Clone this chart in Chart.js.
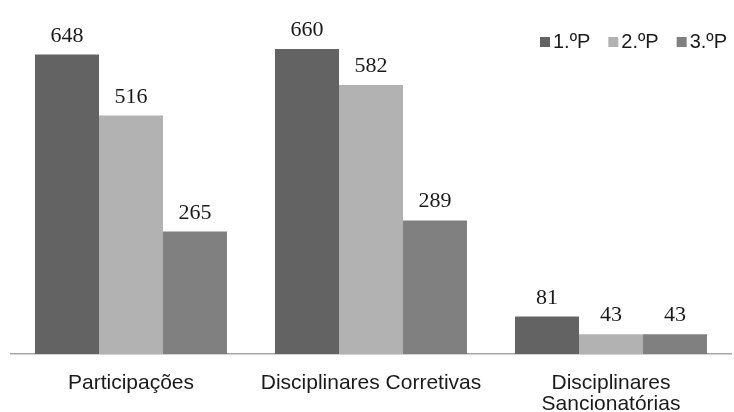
<!DOCTYPE html>
<html>
<head>
<meta charset="utf-8">
<script src="https://cdn.jsdelivr.net/npm/chart.js@4"></script>
<style>
  html, body { margin: 0; padding: 0; background: #fff; }
  #wrap { width: 734px; height: 412px; }
</style>
</head>
<body>
<div id="wrap"><canvas id="barChart" width="734" height="412"></canvas></div>
<script>
const categories = ["Participações", ["Disciplinares Corretivas"], ["Disciplinares", "Sancionatórias"]];
const seriesNames = ["1.ºP", "2.ºP", "3.ºP"];
const p1Values = [648, 660, 81];
const p2Values = [516, 582, 43];
const p3Values = [265, 289, 43];
const seriesColors = ["#636363", "#b2b2b2", "#808080"];

// value labels above each bar
const valueLabels = {
    id: "valueLabels",
    afterDatasetsDraw(chart) {
        const ctx = chart.ctx;
        ctx.save();
        ctx.font = "22px 'Liberation Serif', serif";
        ctx.fillStyle = "#1a1a1a";
        ctx.textAlign = "center";
        ctx.textBaseline = "alphabetic";
        chart.data.datasets.forEach((ds, i) => {
            chart.getDatasetMeta(i).data.forEach((bar, j) => {
                ctx.fillText(String(ds.data[j]), bar.x, bar.y - 13);
            });
        });
        ctx.restore();
    }
};

// legend drawn top right, small squares
const topLegend = {
    id: "topLegend",
    afterDraw(chart) {
        const ctx = chart.ctx;
        ctx.save();
        ctx.font = "20px 'Liberation Sans', Arial, sans-serif";
        ctx.textBaseline = "middle";
        ctx.textAlign = "left";
        let x = 540;
        const yc = 42;
        chart.data.datasets.forEach(ds => {
            ctx.fillStyle = ds.backgroundColor;
            ctx.fillRect(x, yc - 5, 10, 10);
            ctx.fillStyle = "#1a1a1a";
            ctx.fillText(ds.label, x + 13, yc);
            x += 13 + ctx.measureText(ds.label).width + 18;
        });
        ctx.restore();
    }
};

new Chart(document.getElementById("barChart").getContext("2d"), {
    type: "bar",
    data: {
        labels: categories,
        datasets: [
            { label: seriesNames[0], data: p1Values, backgroundColor: seriesColors[0] },
            { label: seriesNames[1], data: p2Values, backgroundColor: seriesColors[1] },
            { label: seriesNames[2], data: p3Values, backgroundColor: seriesColors[2] }
        ]
    },
    options: {
        responsive: false,
        animation: false,
        layout: { padding: { top: 30.5, left: 11, right: 3, bottom: 0 } },
        datasets: { bar: { categoryPercentage: 0.8, barPercentage: 1.0 } },
        plugins: {
            legend: { display: false },
            tooltip: { enabled: false }
        },
        scales: {
            x: {
                grid: { display: false, drawTicks: false },
                border: { display: true, color: "#a6a6a6", width: 1.5 },
                ticks: {
                    padding: 19.5,
                    color: "#1a1a1a",
                    font: { family: "'Liberation Sans', Arial, sans-serif", size: 21, lineHeight: 0.96 }
                },
                afterFit(scale) { scale.height = 58; }
            },
            y: {
                display: false,
                min: 0,
                max: 700
            }
        }
    },
    plugins: [valueLabels, topLegend]
});
</script>
</body>
</html>
